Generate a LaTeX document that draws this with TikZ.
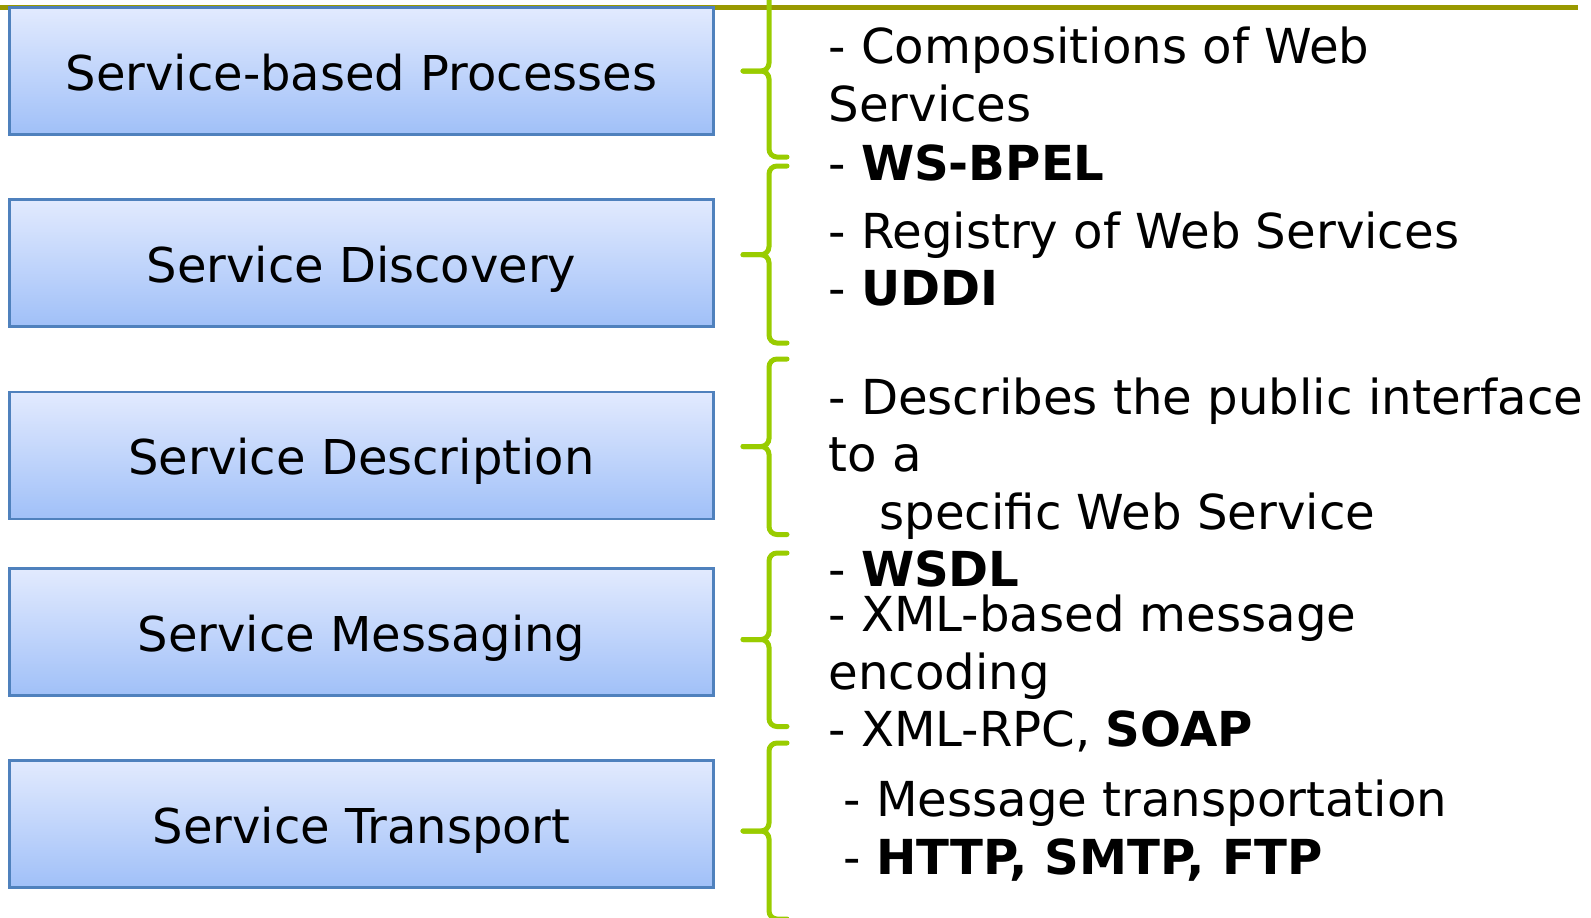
\documentclass[tikz,border=0pt]{standalone}
\usepackage{fontspec}
\setmainfont{DejaVu Sans}
\usetikzlibrary{calc, positioning}

\definecolor{boxtop}{RGB}{226,234,254}
\definecolor{boxbot}{RGB}{160,192,248}
\definecolor{boxline}{RGB}{79,129,189}
\definecolor{bracegreen}{RGB}{153,204,0}
\definecolor{topline}{RGB}{153,153,0}

\tikzset{
    layerbox/.style={draw=boxline, line width=1.35pt, top color=boxtop, bottom color=boxbot,
        minimum width=351.8pt, minimum height=63.5pt, inner sep=0pt, text height=22.8pt, text depth=3.6pt,
        font=\fontsize{24}{29}\selectfont},
    bracket/.style={draw=bracegreen, line width=2.5pt, line cap=round, rounded corners=4pt},
    itemtext/.style={anchor=base west, inner sep=0pt, font=\fontsize{24.1}{29}\selectfont},
}

\begin{document}
\begin{tikzpicture}[x=0.5pt, y=-0.5pt]

    \clip (0,0) rectangle (1591,917);

    \draw[topline, line width=2.3pt] (0,7.5) -- (1578,7.5);

    \node[layerbox] (procbox)  at (361.5,71)    {Service-based Processes};
    \node[layerbox] (discbox)  at (361.5,262.8) {Service Discovery};
    \node[layerbox] (descbox)  at (361.5,455.6) {Service Description};
    \node[layerbox] (msgbox)   at (361.5,632.2) {Service Messaging};
    \node[layerbox] (transbox) at (361.5,823.9) {Service Transport};

    % curly brackets
    \foreach \ya/\yb/\yc in {-15/71/157, 166/254.7/343, 359/446.5/534.5, 553/639.5/726.5, 743/831/919}{
        \draw[bracket] (787,\ya) -| (769,\yb) -- (743,\yb);
        \draw[bracket] (743,\yb) -- (769,\yb) |- (787,\yc);
    }

    \foreach \x/\y/\t [count=\i] in {
        828/63.3/{- Compositions of Web},
        828/121.7/{Services},
        828/180/{- \textbf{WS-BPEL}},
        828/248/{- Registry of Web Services},
        828/305.8/{- \textbf{UDDI}},
        828/414.5/{- Describes the public interface},
        828/471.8/{to a},
        879/529/{specific Web Service},
        828/586.5/{- \textbf{WSDL}},
        828/631.5/{- XML-based message},
        828/689.4/{encoding},
        828/746.2/{- XML-RPC, \textbf{SOAP}},
        843/816.2/{- Message transportation},
        843/874/{- \textbf{HTTP, SMTP, FTP}}}{
        \node[itemtext] (item\i) at (\x,\y) {\t};
    }

\end{tikzpicture}
\end{document}
